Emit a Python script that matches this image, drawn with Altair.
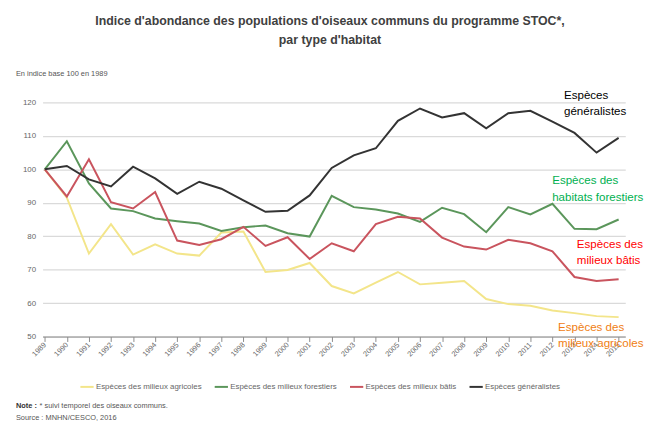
import altair as alt
import pandas as pd

years = list(range(1989, 2016))

agricoles = [100, 91.5, 74.8, 83.6, 74.5, 77.6, 74.8, 74.2, 81.1, 81.4, 69.3, 69.9, 72.0,
             65.1, 62.9, 66.1, 69.3, 65.6, 66.1, 66.6, 61.2, 59.7, 59.2, 57.8, 57.0, 56.1, 55.8]
forestiers = [100, 108.4, 95.8, 88.3, 87.5, 85.3, 84.5, 83.8, 81.6, 82.7, 83.2, 80.9, 79.9,
              92.1, 88.7, 88.0, 86.8, 84.3, 88.5, 86.6, 81.2, 88.7, 86.5, 89.7, 82.2, 82.1, 85.0]
batis = [100, 91.9, 103.0, 90.2, 88.3, 93.2, 78.7, 77.4, 79.1, 82.8, 77.1, 79.7, 73.2,
         77.9, 75.5, 83.6, 85.8, 85.3, 79.6, 76.9, 76.0, 78.9, 77.9, 75.5, 67.8, 66.6, 67.1]
generalistes = [100, 101.0, 97.0, 94.9, 100.8, 97.3, 92.7, 96.3, 94.2, 90.7, 87.3, 87.6, 92.2,
                100.4, 104.2, 106.3, 114.5, 118.2, 115.5, 116.8, 112.3, 116.8, 117.5, 114.3, 110.9, 105.0, 109.4]

series_names = ["Espèces des milieux agricoles", "Espèces des milieux forestiers",
                "Espèces des milieux bâtis", "Espèces généralistes"]
series_colors = ["#f3e58a", "#5b965b", "#c9545e", "#333333"]
y_ticks = [50, 60, 70, 80, 90, 100, 110, 120]

rows = []
for name, vals in zip(series_names, [agricoles, forestiers, batis, generalistes]):
    for yr, v in zip(years, vals):
        rows.append({"annee": yr, "indice": v, "serie": name})
df = pd.DataFrame(rows)

FONT = "Liberation Sans"

lines = alt.Chart(df).mark_line(strokeWidth=2).encode(
    x=alt.X("annee:Q", title=None,
            scale=alt.Scale(domain=[1988.9, 2015.3], nice=False, zero=False),
            axis=alt.Axis(values=years, format="d", grid=False, labelAngle=315,
                          labelAlign="right", labelBaseline="middle", labelFontSize=7.5,
                          labelColor="#666666", labelFont=FONT, labelPadding=2,
                          domainColor="#8c8c8c", tickColor="#8c8c8c", tickSize=5,
                          labelOverlap=False)),
    y=alt.Y("indice:Q", title=None,
            scale=alt.Scale(domain=[50, 120], nice=False, zero=False),
            axis=alt.Axis(values=y_ticks, grid=True, gridColor="#dadada", gridWidth=1.3,
                          domain=False, ticks=False, labelFontSize=8, labelColor="#666666",
                          labelFont=FONT, labelPadding=7)),
    color=alt.Color("serie:N", scale=alt.Scale(domain=series_names, range=series_colors),
                    sort=series_names,
                    legend=alt.Legend(title=None, orient="none", legendX=37, legendY=280,
                                      direction="horizontal", symbolType="stroke",
                                      symbolStrokeWidth=2, symbolSize=180,
                                      labelFontSize=8, labelColor="#666666", labelFont=FONT,
                                      columnPadding=8, symbolOffset=0, labelOffset=1)),
)

def label(text, color, x, y):
    return alt.Chart(pd.DataFrame({"t": [text]})).mark_text(
        align="left", baseline="alphabetic", fontSize=11.7, font=FONT, color=color,
        lineBreak="\n", lineHeight=16.5
    ).encode(x=alt.value(x), y=alt.value(y), text="t:N")

lab_gen = label("Espèces\ngénéralistes", "#000000", 528, -3.5)
lab_for = label("Espèces des\nhabitats forestiers", "#00b050", 516, 83)
lab_bat = label("Espèces des\nmilieux bâtis", "#ff0000", 541, 147)
lab_agr = label("Espèces des\nmilieux agricoles", "#f07d12", 522, 231)

def small(text, x, y, size=7.5, weight="normal", color="#555555"):
    return alt.Chart(pd.DataFrame({"t": [text]})).mark_text(
        align="left", baseline="middle", fontSize=size, font=FONT, color=color,
        fontWeight=weight
    ).encode(x=alt.value(x), y=alt.value(y), text="t:N")

unit = small("En indice base 100 en 1989", -27, -29)
note_b = small("Note :", -27, 307, weight="bold", color="#333333")
note = small("* suivi temporel des oiseaux communs.", -3, 307)
source = small("Source : MNHN/CESCO, 2016", -27, 320)

chart = alt.layer(lines, lab_gen, lab_for, lab_bat, lab_agr, unit, note_b, note, source).properties(
    width=590, height=237,
    title=alt.Title(["Indice d'abondance des populations d'oiseaux communs du programme STOC*,",
                     "par type d'habitat"],
                    anchor="middle", frame="group", dx=-4, offset=24, fontSize=12.5,
                    font=FONT, fontWeight="bold", color="#404040", lineHeight=19),
    autosize=alt.AutoSizeParams(type="none"),
    padding={"left": 35, "top": 93, "right": 21, "bottom": 92},
).configure_view(stroke=None)

chart.save("out.html", embed_options={"renderer": "svg", "actions": False})
